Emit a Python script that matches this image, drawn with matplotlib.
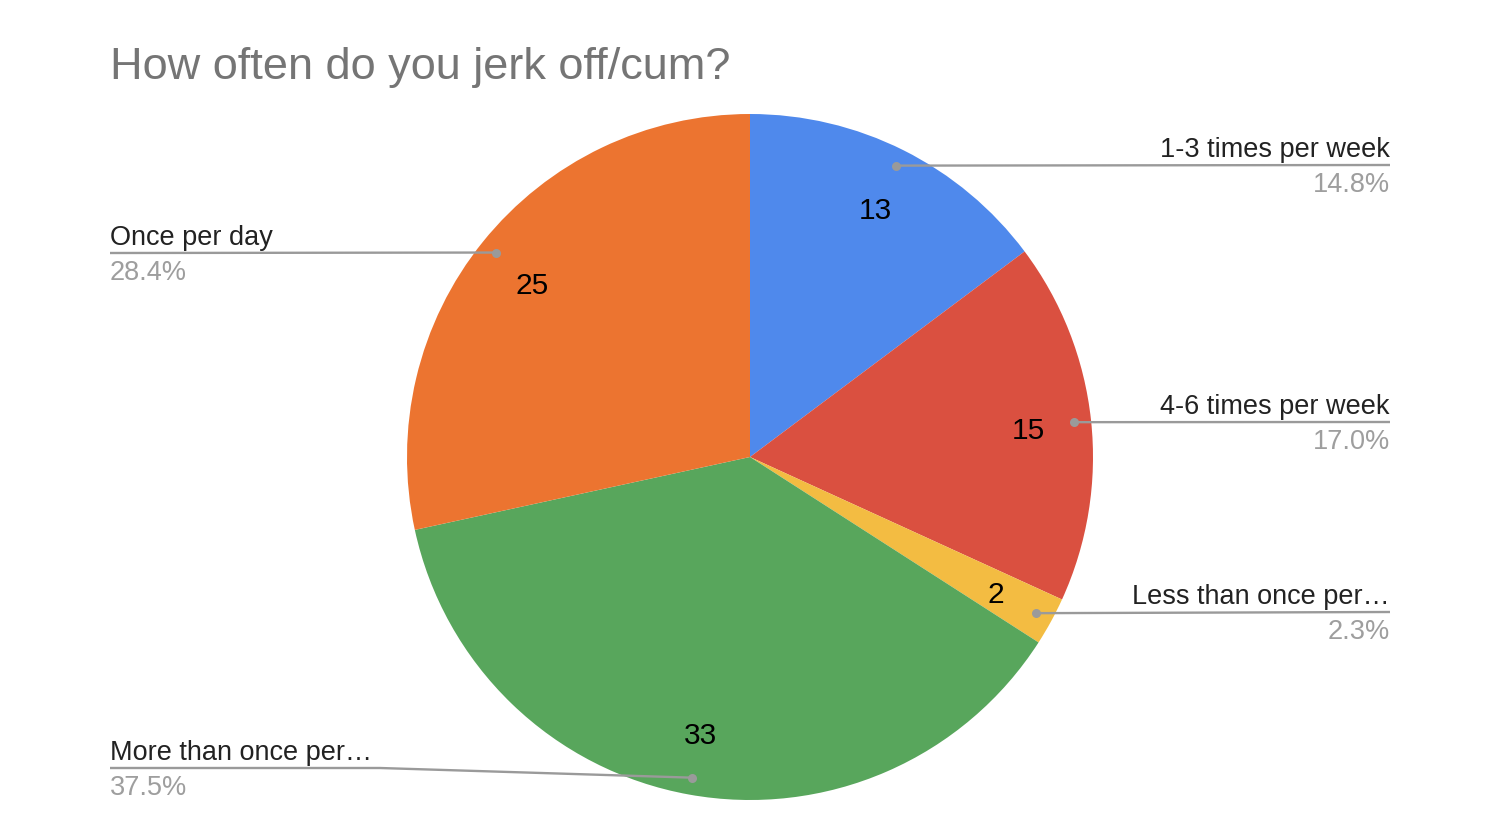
import numpy as np
import matplotlib
matplotlib.use("Agg")
import matplotlib.pyplot as plt

# ---- data ----
categories = ["1-3 times per week", "4-6 times per week", "Less than once per\u2026",
              "More than once per\u2026", "Once per day"]
values = [13, 15, 2, 33, 25]
colors = ["#4f89ec", "#da5040", "#f3bc42", "#58a65c", "#ec7430"]
title = "How often do you jerk off/cum?"

# ---- layout (pixel space, y measured from top) ----
W, H = 1500, 840
cx, cy, R = 750, 457, 343
label_side = ["right", "right", "right", "left", "left"]
label_line_y = [165, 422, 612, 768, 253]
left_x, right_x = 110, 1390

plt.rcParams["font.family"] = ["Liberation Sans", "DejaVu Sans"]
fig = plt.figure(figsize=(W / 100, H / 100), dpi=100)
ax = fig.add_axes([0, 0, 1, 1])
ax.set_xlim(0, W)
ax.set_ylim(0, H)
ax.set_aspect("equal")
ax.axis("off")

def Y(y):
    return H - y

wedges, _ = ax.pie(values, colors=colors, startangle=90, counterclock=False,
                   center=(cx, Y(cy)), radius=R, frame=False,
                   wedgeprops=dict(linewidth=0))
ax.set_xlim(0, W)
ax.set_ylim(0, H)

total = sum(values)
line_col = "#9a9a9a"
for w, cat, v, side, ly in zip(wedges, categories, values, label_side, label_line_y):
    ang = np.deg2rad((w.theta1 + w.theta2) / 2)
    # value label inside
    r_in = 0.815 * R
    ax.text(cx + r_in * np.cos(ang), Y(cy) + r_in * np.sin(ang) - 4, str(v),
            fontsize=21.5, color="#000000", ha="center", va="center")
    # dot
    r_d = 0.95 * R
    dx, dy = cx + r_d * np.cos(ang), Y(cy) + r_d * np.sin(ang)
    pct = f"{100 * v / total:.1f}%"
    if side == "right":
        xs = [dx, right_x]
        ys = [dy, Y(ly)]
        tx, ha = right_x, "right"
    else:
        bend = left_x + 270
        if abs(Y(ly) - dy) > 1:
            xs = [left_x, bend, dx]
            ys = [Y(ly), Y(ly), dy]
        else:
            xs = [left_x, dx]
            ys = [Y(ly), dy]
        tx, ha = left_x, "left"
    ax.plot(xs, ys, color=line_col, lw=1.7, solid_capstyle="butt", zorder=3)
    ax.plot([dx], [dy], "o", color=line_col, ms=6.5, mec="none", zorder=4)
    ax.text(tx, Y(ly - 8), cat, fontsize=19.5, color="#222222", ha=ha, va="baseline")
    ax.text(tx, Y(ly + 27), pct, fontsize=19.5, color="#9e9e9e", ha=ha, va="baseline")

ax.text(110, Y(79), title, fontsize=32.5, color="#757575", ha="left", va="baseline")

fig.savefig("out.png", dpi=100, facecolor="white")
